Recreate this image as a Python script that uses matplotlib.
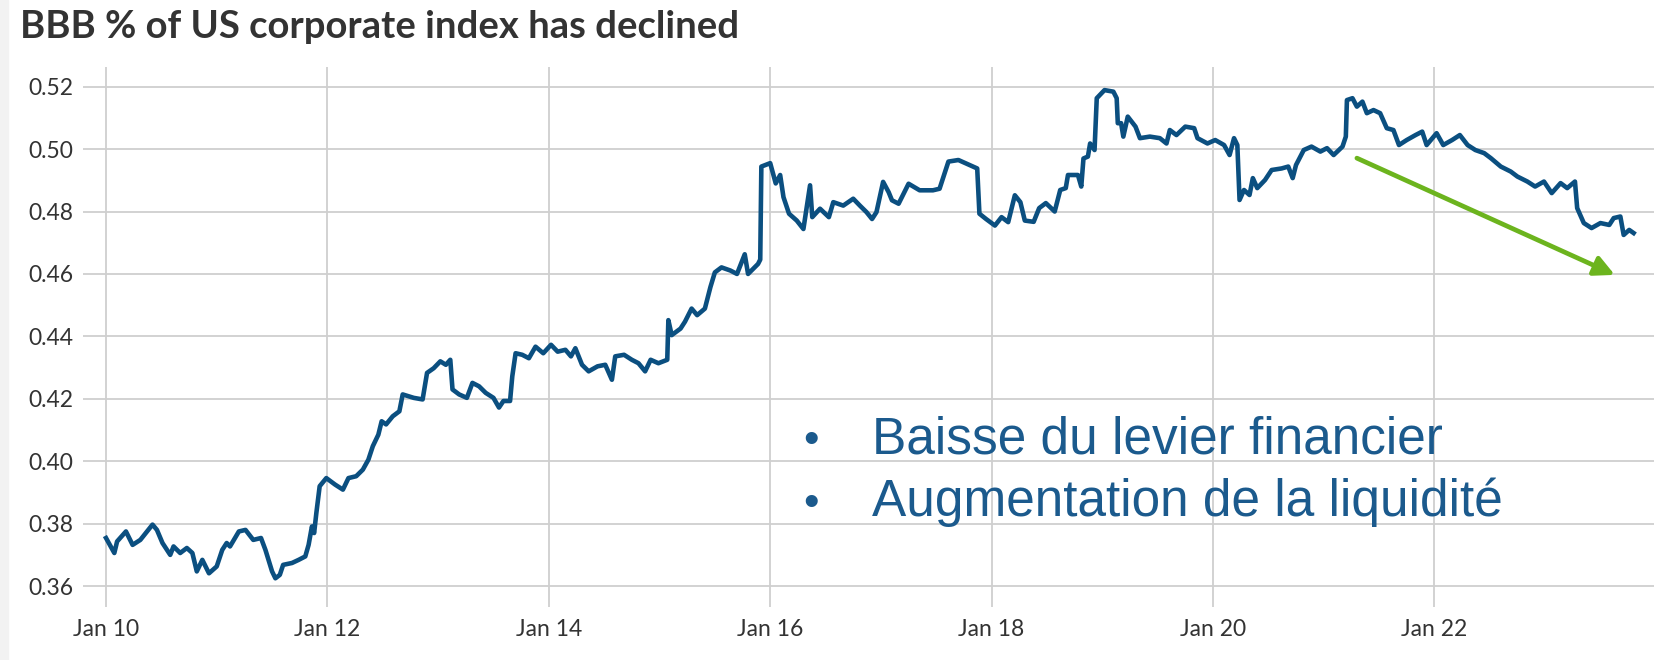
import matplotlib
matplotlib.use("Agg")
import matplotlib.pyplot as plt
from matplotlib.patches import Rectangle

# ---- data (decimal year, share of BBB in US corporate index) ----
years = [
    2010.00, 2010.075, 2010.10, 2010.18, 2010.24, 2010.31, 2010.42, 2010.46, 2010.51, 2010.58,
    2010.61, 2010.67, 2010.73, 2010.78, 2010.82, 2010.87, 2010.93, 2011.00, 2011.05, 2011.09,
    2011.12, 2011.20, 2011.26, 2011.33, 2011.40, 2011.44, 2011.50, 2011.53, 2011.57, 2011.60,
    2011.68, 2011.74, 2011.80, 2011.83, 2011.86, 2011.88, 2011.90, 2011.93, 2011.99, 2012.07,
    2012.14, 2012.19, 2012.26, 2012.32, 2012.37, 2012.41, 2012.46, 2012.49, 2012.53, 2012.59,
    2012.65, 2012.68, 2012.78, 2012.86, 2012.90, 2012.96, 2013.02, 2013.07, 2013.11, 2013.13,
    2013.19, 2013.26, 2013.31, 2013.37, 2013.43, 2013.50, 2013.55, 2013.59, 2013.65, 2013.67,
    2013.70, 2013.76, 2013.82, 2013.88, 2013.95, 2014.02, 2014.08, 2014.15, 2014.20, 2014.24,
    2014.30, 2014.36, 2014.44, 2014.51, 2014.57, 2014.60, 2014.68, 2014.75, 2014.81, 2014.87,
    2014.92, 2014.99, 2015.07, 2015.08, 2015.11, 2015.19, 2015.23, 2015.29, 2015.34, 2015.41,
    2015.46, 2015.50, 2015.56, 2015.64, 2015.70, 2015.77, 2015.80, 2015.89, 2015.91, 2015.92,
    2016.00, 2016.05, 2016.09, 2016.12, 2016.17, 2016.24, 2016.30, 2016.33, 2016.36, 2016.38,
    2016.45, 2016.53, 2016.57, 2016.66, 2016.75, 2016.81, 2016.87, 2016.92, 2016.96, 2017.02,
    2017.07, 2017.10, 2017.16, 2017.25, 2017.35, 2017.47, 2017.53, 2017.61, 2017.70, 2017.80,
    2017.87, 2017.89, 2017.95, 2018.03, 2018.09, 2018.15, 2018.21, 2018.26, 2018.30, 2018.38,
    2018.43, 2018.49, 2018.57, 2018.62, 2018.67, 2018.69, 2018.78, 2018.81, 2018.83, 2018.87,
    2018.89, 2018.93, 2018.95, 2019.02, 2019.10, 2019.13, 2019.14, 2019.17, 2019.19, 2019.23,
    2019.30, 2019.34, 2019.43, 2019.52, 2019.58, 2019.61, 2019.67, 2019.75, 2019.83, 2019.86,
    2019.95, 2020.02, 2020.10, 2020.15, 2020.19, 2020.22, 2020.24, 2020.28, 2020.33, 2020.36,
    2020.40, 2020.47, 2020.53, 2020.62, 2020.68, 2020.72, 2020.75, 2020.82, 2020.89, 2020.97,
    2021.03, 2021.09, 2021.17, 2021.20, 2021.21, 2021.26, 2021.30, 2021.35, 2021.39, 2021.45,
    2021.51, 2021.57, 2021.63, 2021.68, 2021.75, 2021.83, 2021.89, 2021.93, 2022.02, 2022.08,
    2022.16, 2022.23, 2022.30, 2022.37, 2022.45, 2022.51, 2022.60, 2022.69, 2022.75, 2022.84,
    2022.91, 2022.99, 2023.06, 2023.14, 2023.20, 2023.27, 2023.29, 2023.35, 2023.42, 2023.50,
    2023.58, 2023.62, 2023.68, 2023.71, 2023.76, 2023.80,
]
bbb_share = [
    0.3754, 0.3706, 0.3743, 0.3775, 0.3732, 0.3748, 0.3797, 0.3780, 0.3738, 0.3700,
    0.3727, 0.3706, 0.3722, 0.3706, 0.3647, 0.3684, 0.3641, 0.3663, 0.3716, 0.3738,
    0.3727, 0.3775, 0.3780, 0.3748, 0.3754, 0.3716, 0.3647, 0.3625, 0.3636, 0.3668,
    0.3674, 0.3684, 0.3695, 0.3732, 0.3791, 0.3770, 0.3834, 0.3920, 0.3946, 0.3925,
    0.3909, 0.3946, 0.3952, 0.3973, 0.4005, 0.4048, 0.4085, 0.4128, 0.4118, 0.4144,
    0.4160, 0.4214, 0.4203, 0.4198, 0.4283, 0.4298, 0.4320, 0.4309, 0.4325, 0.4230,
    0.4214, 0.4203, 0.4251, 0.4240, 0.4219, 0.4203, 0.4172, 0.4193, 0.4193, 0.4272,
    0.4346, 0.4341, 0.4330, 0.4367, 0.4346, 0.4373, 0.4351, 0.4357, 0.4336, 0.4362,
    0.4309, 0.4288, 0.4304, 0.4309, 0.4261, 0.4336, 0.4341, 0.4325, 0.4314, 0.4288,
    0.4325, 0.4314, 0.4325, 0.4452, 0.4404, 0.4425, 0.4447, 0.4489, 0.4468, 0.4489,
    0.4558, 0.4605, 0.4621, 0.4611, 0.4600, 0.4663, 0.4600, 0.4632, 0.4646, 0.4944,
    0.4955, 0.4890, 0.4917, 0.4846, 0.4793, 0.4771, 0.4744, 0.4814, 0.4884, 0.4782,
    0.4809, 0.4782, 0.4830, 0.4819, 0.4841, 0.4819, 0.4798, 0.4776, 0.4798, 0.4895,
    0.4862, 0.4836, 0.4825, 0.4889, 0.4868, 0.4868, 0.4873, 0.4960, 0.4965, 0.4949,
    0.4938, 0.4793, 0.4776, 0.4755, 0.4782, 0.4766, 0.4852, 0.4830, 0.4771, 0.4767,
    0.4811, 0.4827, 0.4800, 0.4869, 0.4875, 0.4917, 0.4917, 0.4880, 0.4970, 0.4976,
    0.5018, 0.4997, 0.5163, 0.5189, 0.5184, 0.5163, 0.5083, 0.5083, 0.5040, 0.5104,
    0.5072, 0.5035, 0.5040, 0.5035, 0.5018, 0.5061, 0.5045, 0.5072, 0.5067, 0.5035,
    0.5018, 0.5029, 0.5013, 0.4981, 0.5035, 0.5013, 0.4837, 0.4869, 0.4853, 0.4907,
    0.4875, 0.4901, 0.4933, 0.4938, 0.4944, 0.4907, 0.4949, 0.4997, 0.5008, 0.4992,
    0.5003, 0.4981, 0.5008, 0.5040, 0.5157, 0.5163, 0.5136, 0.5152, 0.5115, 0.5125,
    0.5115, 0.5067, 0.5061, 0.5013, 0.5029, 0.5045, 0.5056, 0.5013, 0.5051, 0.5013,
    0.5029, 0.5045, 0.5013, 0.4997, 0.4987, 0.4971, 0.4944, 0.4928, 0.4912, 0.4896,
    0.4880, 0.4896, 0.4859, 0.4891, 0.4875, 0.4896, 0.4811, 0.4763, 0.4747, 0.4763,
    0.4757, 0.4779, 0.4784, 0.4725, 0.4741, 0.4731,
]
x_ticks = [2010, 2012, 2014, 2016, 2018, 2020, 2022]
x_tick_labels = ["Jan 10", "Jan 12", "Jan 14", "Jan 16", "Jan 18", "Jan 20", "Jan 22"]
y_ticks = [0.36, 0.38, 0.40, 0.42, 0.44, 0.46, 0.48, 0.50, 0.52]
title = "BBB % of US corporate index has declined"
bullets = ["Baisse du levier financier", "Augmentation de la liquidité"]
arrow_start = (2021.30, 0.4971)
arrow_end = (2023.63, 0.4597)

# ---- figure ----
W, H = 1656, 660
fig = plt.figure(figsize=(W / 100, H / 100), dpi=100)
fig.patches.append(Rectangle((0, 0), 8 / W, 1, transform=fig.transFigure,
                             color="#f2f2f2", zorder=0))

left, right, top, bottom = 83, 1654, 67, 607
ax = fig.add_axes([left / W, 1 - bottom / H, (right - left) / W, (bottom - top) / H])
ax.set_xlim(2009.792, 2023.984)
ax.set_ylim(0.3533, 0.5263)

for s in ax.spines.values():
    s.set_visible(False)
ax.grid(True, color="#cfcfcf", linewidth=1.3)
ax.set_axisbelow(True)

ax.plot(years, bbb_share, color="#0b4f80", linewidth=3.3, zorder=3,
        solid_joinstyle="round")

ax.set_xticks(x_ticks)
ax.set_xticklabels(x_tick_labels)
ax.set_yticks(y_ticks)
ax.set_yticklabels([f"{v:.2f}" for v in y_ticks])
ax.tick_params(axis="both", length=0, labelsize=16.5, labelcolor="#333333")
ax.tick_params(axis="y", pad=7)
ax.tick_params(axis="x", pad=9)
for lab in ax.get_xticklabels() + ax.get_yticklabels():
    lab.set_family("Lato")

ax.annotate("", xy=arrow_end, xytext=arrow_start,
            arrowprops=dict(arrowstyle="-|>", color="#6cb41e", lw=3.4,
                            mutation_scale=30, shrinkA=0, shrinkB=0), zorder=4)

fig.text(20 / W, 1 - 27 / H, title, family="Lato", weight="bold", fontsize=27.5,
         color="#333333", ha="left", va="center")

text_color = "#1b5a8d"
for i, line in enumerate(bullets):
    yb = 1 - (453 + 63 * i) / H
    fig.text(811 / W, yb, "\u2022", family="Liberation Sans", fontsize=32,
             color=text_color, ha="center", va="baseline")
    fig.text(872 / W, yb, line, family="Liberation Sans", fontsize=37,
             color=text_color, ha="left", va="baseline")

fig.savefig("out.png", dpi=100)
